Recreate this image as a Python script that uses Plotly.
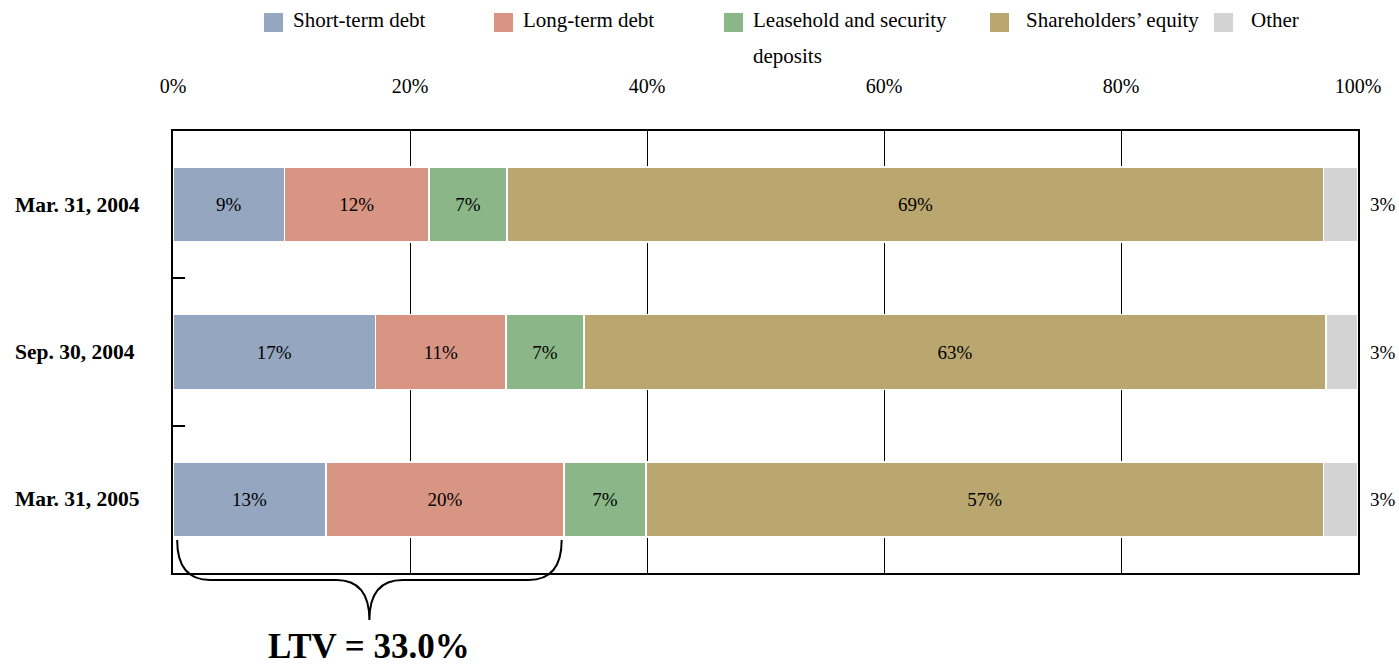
import plotly.graph_objects as go

categories = ["Mar. 31, 2004", "Sep. 30, 2004", "Mar. 31, 2005"]
series_names = ["Short-term debt", "Long-term debt", "Leasehold and security deposits",
                "Shareholders’ equity", "Other"]
legend_lines = [["Short-term debt"], ["Long-term debt"], ["Leasehold and security", "deposits"],
                ["Shareholders’ equity"], ["Other"]]
short_term = [9.4, 17.1, 12.9]
long_term = [12.2, 11.0, 20.1]
leasehold = [6.6, 6.6, 6.9]
equity = [68.9, 62.6, 57.2]
other = [2.9, 2.7, 2.9]
colors = ["#95A7C0", "#D89584", "#8BB788", "#BAA76F", "#D3D3D3"]
x_ticks = [0, 20, 40, 60, 80, 100]
x_tick_labels = ["0%", "20%", "40%", "60%", "80%", "100%"]
ltv_label = "LTV = 33.0%"

FONT = "Liberation Serif, Times New Roman, serif"
W, H = 1399, 669
ML, MR, MT, MB = 173, 41, 131, 96
PW, PH = W - ML - MR, H - MT - MB


def px_x(p):
    return (p - ML) / PW


def px_y(p):
    return (H - MB - p) / PH


fig = go.Figure()
all_series = [short_term, long_term, leasehold, equity, other]
for name, vals, col in zip(series_names, all_series, colors):
    is_other = name == "Other"
    fig.add_trace(go.Bar(
        y=categories, x=vals, name=name, orientation="h",
        marker=dict(color=col, line=dict(color="white", width=1.5)),
        text=None if is_other else [f"{round(v)}%" for v in vals],
        textposition="inside", insidetextanchor="middle",
        textfont=dict(family=FONT, size=19, color="black"),
        hoverinfo="skip", showlegend=False,
    ))

# "Other" labels outside the plot on the right
for c, v in zip(categories, other):
    fig.add_annotation(x=100, y=c, xref="x", yref="y", text=f"{round(v)}%",
                       showarrow=False, xanchor="left", xshift=10,
                       font=dict(family=FONT, size=19, color="black"))

# Left-aligned category labels
for c in categories:
    fig.add_annotation(x=px_x(13), y=c, xref="paper", yref="y", text=f"<b>{c}</b>",
                       showarrow=False, xanchor="left",
                       font=dict(family=FONT, size=21.5, color="black"))

# Legend (top): coloured squares with text
sq_left = [264, 494, 724, 990, 1214]
txt_left = [291, 521, 751, 1024, 1249]
for col, lines, sx, tx in zip(colors, legend_lines, sq_left, txt_left):
    fig.add_shape(type="rect", xref="paper", yref="paper",
                  x0=px_x(sx), x1=px_x(sx + 19), y0=px_y(32), y1=px_y(13),
                  fillcolor=col, line=dict(width=0))
    for i, line in enumerate(lines):
        fig.add_annotation(x=px_x(tx), y=px_y(20 + 36 * i), xref="paper", yref="paper",
                           text=line, showarrow=False, xanchor="left", yanchor="middle",
                           font=dict(family=FONT, size=21, color="black"))

# Curly brace under the LTV segments (short + long term debt of last category)
x0 = 0.35
x1 = short_term[2] + long_term[2] - 0.2
xc = (x0 + x1) / 2
yt, ym, yb = px_y(540), px_y(580), px_y(620)
a = 2.8
path = (f"M {x0},{yt} Q {x0},{ym} {x0 + a},{ym} L {xc - a},{ym} "
        f"Q {xc},{ym} {xc},{yb} Q {xc},{ym} {xc + a},{ym} "
        f"L {x1 - a},{ym} Q {x1},{ym} {x1},{yt}")
fig.add_shape(type="path", path=path, xref="x", yref="paper",
              line=dict(color="black", width=2))

fig.add_annotation(x=xc, y=px_y(668), xref="x", yref="paper", text=f"<b>{ltv_label}</b>",
                   showarrow=False, xanchor="center", yanchor="bottom",
                   font=dict(family=FONT, size=35, color="black"))

fig.update_layout(
    barmode="stack",
    bargap=0.49,
    width=W, height=H,
    margin=dict(l=ML, r=MR, t=MT, b=MB, autoexpand=False),
    paper_bgcolor="white", plot_bgcolor="white",
    font=dict(family=FONT, size=20, color="black"),
    showlegend=False,
    xaxis=dict(range=[0, 100], side="top", tickvals=x_ticks, ticktext=x_tick_labels,
               showgrid=True, gridcolor="black", gridwidth=1,
               showline=True, linecolor="black", linewidth=2, mirror=True,
               ticks="", ticklabelstandoff=28, zeroline=False,
               tickfont=dict(family=FONT, size=20, color="black")),
    yaxis=dict(type="category", autorange="reversed", showticklabels=False,
               showline=True, linecolor="black", linewidth=2, mirror=True,
               ticks="inside", ticklen=12, tickcolor="black", tickwidth=1.5,
               tickson="boundaries", showgrid=False),
)

fig.write_html("out.html")
